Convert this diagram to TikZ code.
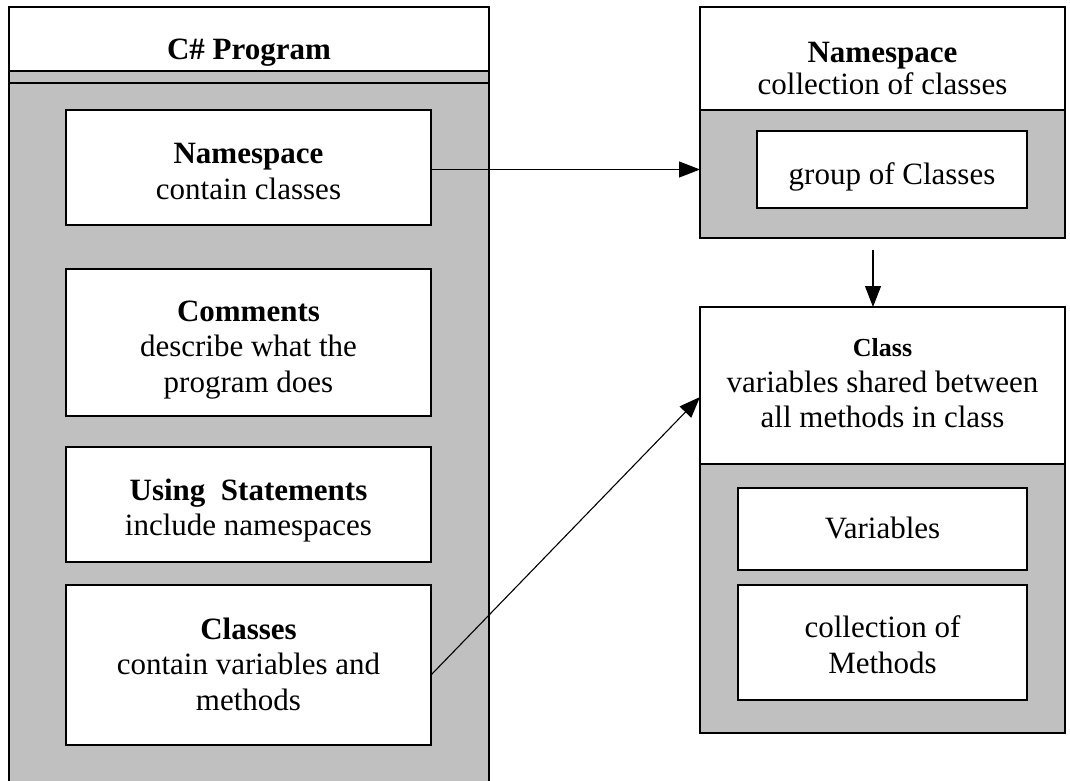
\documentclass[tikz,border=0pt]{standalone}
\usepackage{fontspec}
\setmainfont{Liberation Serif}
\usetikzlibrary{arrows.meta,fit}
\definecolor{panelgray}{RGB}{192,192,192}
\begin{document}
\begin{tikzpicture}[x=1pt,y=-1pt,
  frame/.style={draw=black, line width=1.2pt, inner sep=0pt, outer sep=0pt},
  whitebox/.style={frame, fill=white},
  graybox/.style={frame, fill=panelgray},
  txt/.style={inner sep=0pt, align=center, font=\fontsize{31}{35.5}\selectfont},
  conn/.style={line width=1.1pt, -{Triangle[length=21pt,width=16pt]}}
]
\useasboundingbox (0,0) rectangle (1070,781);
\clip (0,0) rectangle (1070,781);

% C# program container (runs off the bottom edge)
\node[graybox, fit={(9,7) (489,800)}] (prog) {};
\node[whitebox, fit={(9,7) (489,71)}] (progHead) {};
\node[graybox, fit={(9,71) (489,83)}] (progBand) {};
\node[txt] (progTitle) at (249,53) {\textbf{C\# Program}};

% parts of a program
\node[whitebox, fit={(66,110) (431,225)}] (nsItem) {};
\node[txt] (nsItemText) at (248.5,171.5) {\textbf{Namespace}\\contain classes};
\node[whitebox, fit={(66,269) (431,416)}] (cmItem) {};
\node[txt] (cmItemText) at (248.5,350) {\textbf{Comments}\\describe what the\\program does};
\node[whitebox, fit={(66,447) (431,562)}] (usItem) {};
\node[txt] (usItemText) at (248.5,510.5) {\textbf{Using\ \ Statements}\\include namespaces};
\node[whitebox, fit={(66,585) (431,745)}] (clItem) {};
\node[txt] (clItemText) at (248.5,664) {\textbf{Classes}\\contain variables and\\methods};

% namespace panel
\node[graybox, fit={(700,7) (1065,238)}] (nsPanel) {};
\node[whitebox, fit={(700,7) (1065,110)}] (nsHead) {};
\node[txt, font=\fontsize{31}{32}\selectfont] (nsHeadText) at (882.5,68.5) {\textbf{Namespace}\\collection of classes};
\node[whitebox, fit={(757,131) (1027,208)}] (grpItem) {};
\node[txt] (grpItemText) at (892,177) {group of Classes};

% class panel
\node[graybox, fit={(700,307) (1065,733)}] (clsPanel) {};
\node[whitebox, fit={(700,307) (1065,464)}] (clsHead) {};
\node[txt] (clsHeadText) at (882.5,383.5) {{\fontsize{26}{33}\selectfont\textbf{Class}}\\variables shared between\\all methods in class};
\node[whitebox, fit={(738,488) (1027,570)}] (varItem) {};
\node[txt] (varItemText) at (882.5,527.5) {Variables};
\node[whitebox, fit={(738,585) (1027,700)}] (mthItem) {};
\node[txt] (mthItemText) at (882.5,644.5) {collection of\\Methods};

% connectors
\draw[conn] ([yshift=-2pt]nsItem.east) -- ([yshift=-2pt]nsItem.east -| nsPanel.west);
\coordinate (dropTop) at (873,250);
\draw[conn] (dropTop) -- (dropTop |- clsHead.north);
\draw[conn] ([yshift=-10pt]clItem.east) -- ([yshift=-11.5pt]clsHead.west);
\end{tikzpicture}
\end{document}
